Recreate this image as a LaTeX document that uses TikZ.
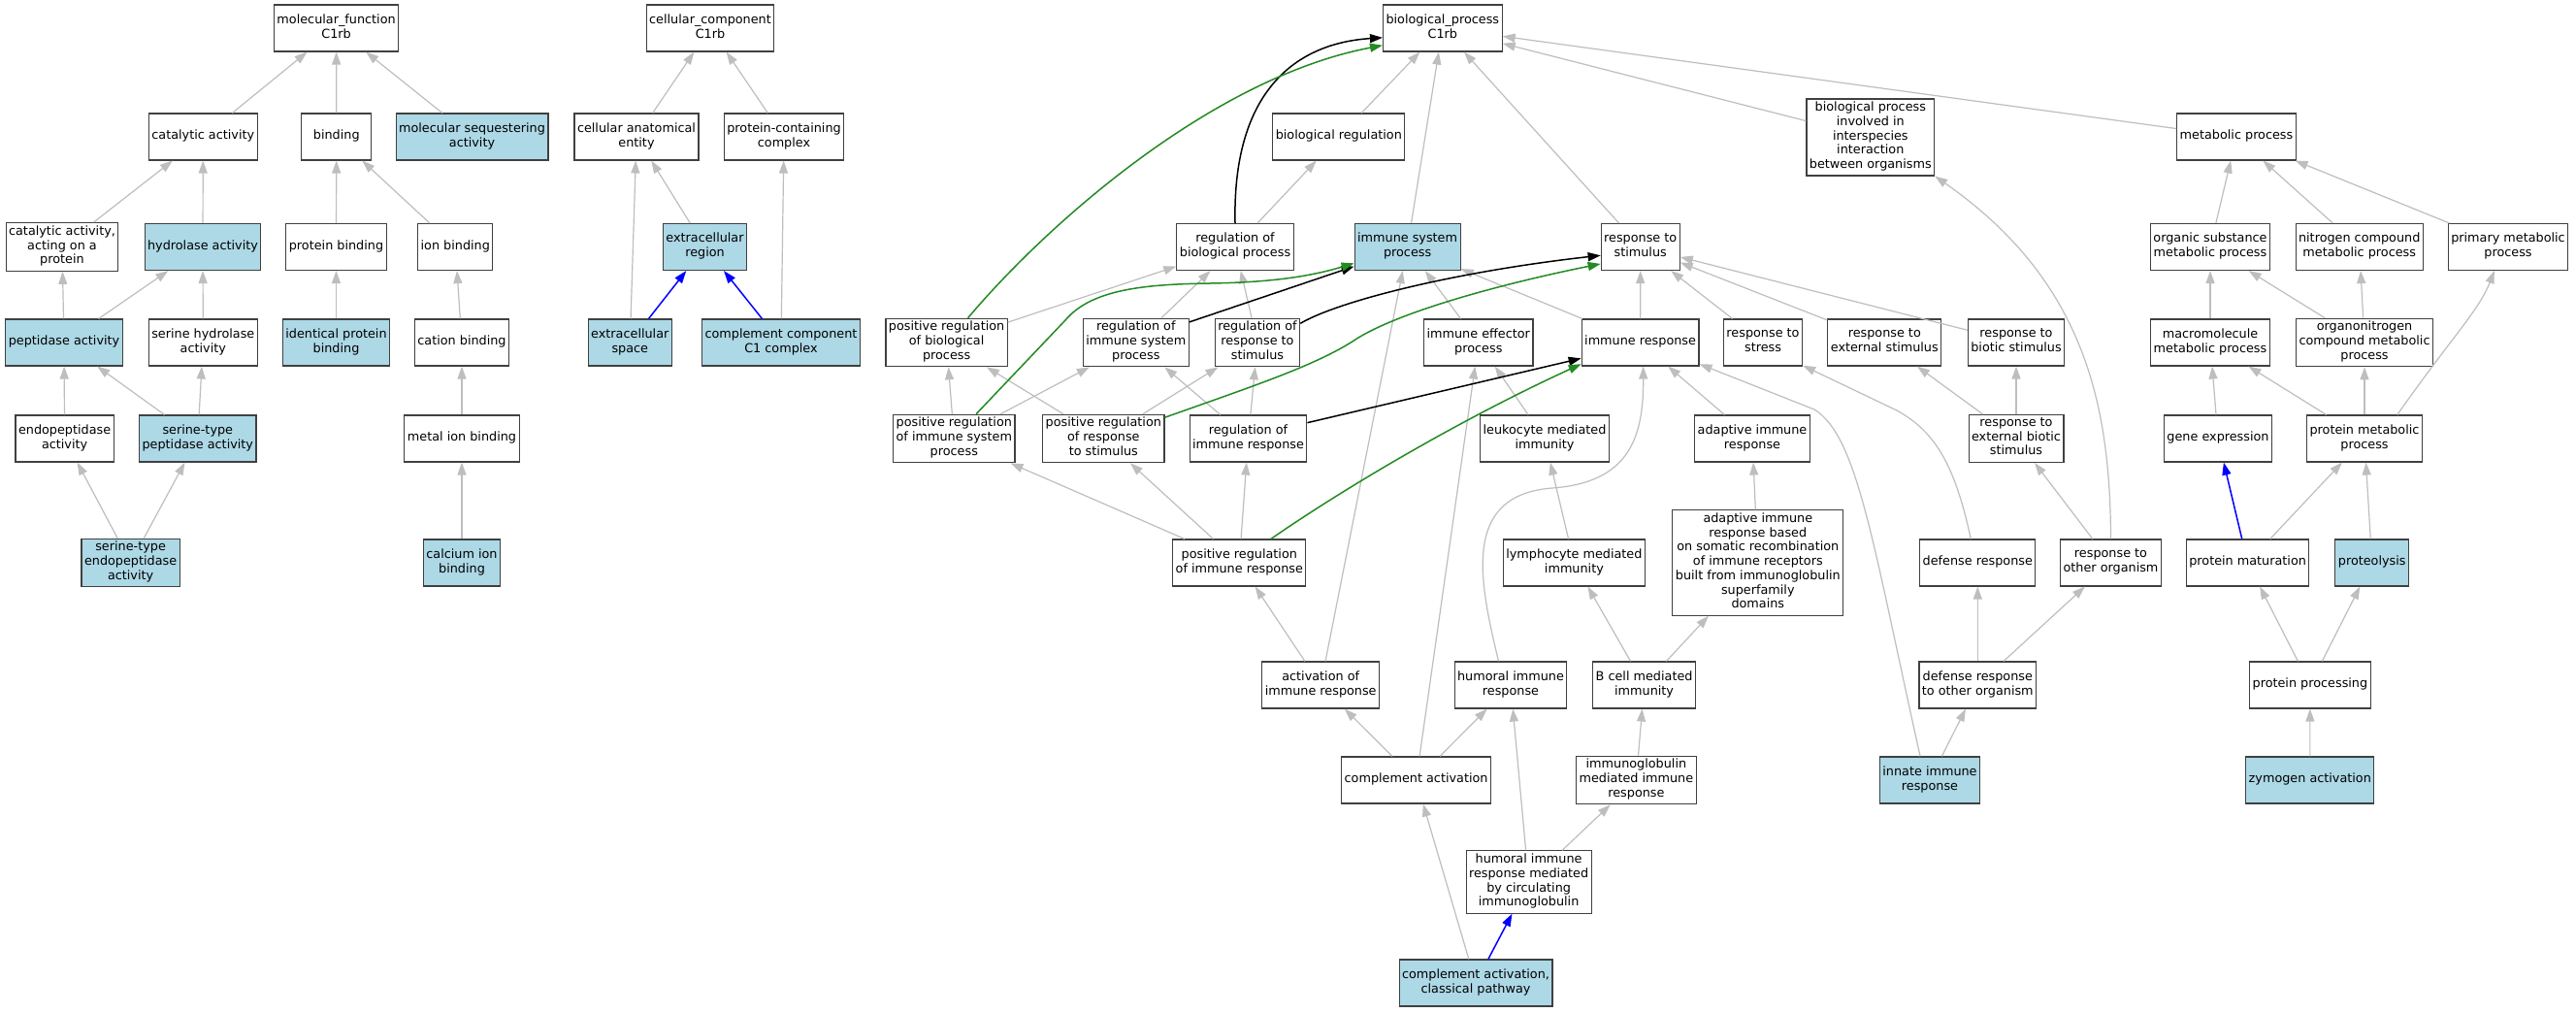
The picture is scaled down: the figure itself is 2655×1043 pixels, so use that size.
\documentclass[tikz,border=0pt]{standalone}
\usepackage{fontspec}
\setmainfont{DejaVu Sans}
\usetikzlibrary{arrows.meta}
\definecolor{termblue}{HTML}{ADD8E6}
\definecolor{edgegray}{HTML}{BEBEBE}
\definecolor{posgreen}{HTML}{228B22}
\begin{document}
\begin{tikzpicture}[x=1bp,y=-1bp,
  term/.style={draw=black!75,line width=1.1bp,fill=white,align=center,minimum width=72bp,minimum height=48bp,inner xsep=3bp,inner ysep=3bp,font=\fontsize{12.8bp}{14.7bp}\selectfont,execute at begin node=\strut,execute at end node=\strut},
  hit/.style={term,fill=termblue},
  isa/.style={draw=edgegray,line width=1.2bp,-{Triangle[length=13bp,width=9bp]}},
  reg/.style={draw=black,line width=1.5bp,-{Triangle[length=13bp,width=9bp]}},
  posreg/.style={draw=posgreen,line width=1.5bp,-{Triangle[length=13bp,width=9bp]}},
  part/.style={draw=blue,line width=1.5bp,-{Triangle[length=13bp,width=9bp]}}]
  \path[use as bounding box,fill=white] (0,0) rectangle (2655,1043);
  % molecular function
  \node[term](mf) at (346.6,29) {molecular\_function\\C1rb};
  \node[term](catact) at (209.3,141) {catalytic activity};
  \node[term](binding) at (346.8,141) {binding};
  \node[hit](molseq) at (486.5,141) {molecular sequestering\\activity};
  \node[term](catprot) at (64,254.5) {catalytic activity,\\acting on a\\protein};
  \node[hit](hydro) at (209,254.5) {hydrolase activity};
  \node[term](protbind) at (346.5,254.5) {protein binding};
  \node[term](ionbind) at (469.3,254.5) {ion binding};
  \node[hit](pept) at (66,353) {peptidase activity};
  \node[term](serhyd) at (209.3,353) {serine hydrolase\\activity};
  \node[hit](idprot) at (346.5,353) {identical protein\\binding};
  \node[term](cation) at (476,353) {cation binding};
  \node[term](endopep) at (66.6,452) {endopeptidase\\activity};
  \node[hit](serpep) at (203.8,452) {serine-type\\peptidase activity};
  \node[term](metalion) at (476,452) {metal ion binding};
  \node[hit](serendo) at (134.6,580) {serine-type\\endopeptidase\\activity};
  \node[hit](calcium) at (476,580) {calcium ion\\binding};
  % cellular component
  \node[term](cc) at (732,29) {cellular\_component\\C1rb};
  \node[term](cae) at (656,141) {cellular anatomical\\entity};
  \node[term](pcc) at (808,141) {protein-containing\\complex};
  \node[hit](ecr) at (726.5,254.5) {extracellular\\region};
  \node[hit](ecs) at (649.3,353) {extracellular\\space};
  \node[hit](c1c) at (805,353) {complement component\\C1 complex};
  % biological process
  \node[term](bp) at (1486.8,29) {biological\_process\\C1rb};
  \node[term](bioreg) at (1379.8,141) {biological regulation};
  \node[term](interspec) at (1927.8,141.5) {biological process\\involved in\\interspecies\\interaction\\between organisms};
  \node[term](metab) at (2305,141) {metabolic process};
  \node[term](rbp) at (1273,254.5) {regulation of\\biological process};
  \node[hit](isp) at (1450.6,254.5) {immune system\\process};
  \node[term](rts) at (1690.7,254.5) {response to\\stimulus};
  \node[term](osmp) at (2278,254.5) {organic substance\\metabolic process};
  \node[term](ncmp) at (2431.7,254.5) {nitrogen compound\\metabolic process};
  \node[term](pmp) at (2585,254.5) {primary metabolic\\process};
  \node[term](prbp) at (975.6,353) {positive regulation\\of biological\\process};
  \node[term](risp) at (1170.8,353) {regulation of\\immune system\\process};
  \node[term](rrs) at (1296,353) {regulation of\\response to\\stimulus};
  \node[term](iep) at (1523.8,353) {immune effector\\process};
  \node[term](ir) at (1690.6,353) {immune response};
  \node[term](rstress) at (1817,353) {response to\\stress};
  \node[term](rext) at (1942.3,353) {response to\\external stimulus};
  \node[term](rbiotic) at (2078,353) {response to\\biotic stimulus};
  \node[term](mmp) at (2278,353) {macromolecule\\metabolic process};
  \node[term](onmp) at (2437,353) {organonitrogen\\compound metabolic\\process};
  \node[term](prisp) at (983.3,452) {positive regulation\\of immune system\\process};
  \node[term](prrs) at (1137.3,452) {positive regulation\\of response\\to stimulus};
  \node[term](rir) at (1286.5,452) {regulation of\\immune response};
  \node[term](lmi) at (1592,452) {leukocyte mediated\\immunity};
  \node[term](air) at (1806,452) {adaptive immune\\response};
  \node[term](rebs) at (2078,452) {response to\\external biotic\\stimulus};
  \node[term](geneexp) at (2286,452) {gene expression};
  \node[term](protmet) at (2437,452) {protein metabolic\\process};
  \node[term](prir) at (1277.3,580) {positive regulation\\of immune response};
  \node[term](lymph) at (1622.4,580) {lymphocyte mediated\\immunity};
  \node[term](airsr) at (1811.8,580) {adaptive immune\\response based\\on somatic recombination\\of immune receptors\\built from immunoglobulin\\superfamily\\domains};
  \node[term](defresp) at (2038.3,580) {defense response};
  \node[term](rorg) at (2175.5,580) {response to\\other organism};
  \node[term](protmat) at (2316.6,580) {protein maturation};
  \node[hit](proteol) at (2444.7,580) {proteolysis};
  \node[term](actir) at (1361.2,706) {activation of\\immune response};
  \node[term](humir) at (1557,706) {humoral immune\\response};
  \node[term](bcell) at (1694.6,706) {B cell mediated\\immunity};
  \node[term](dror) at (2038.3,706) {defense response\\to other organism};
  \node[term](protproc) at (2380.9,706) {protein processing};
  \node[term](compact) at (1459.6,804) {complement activation};
  \node[term](igmir) at (1686.4,804) {immunoglobulin\\mediated immune\\response};
  \node[hit](innate) at (1989,804) {innate immune\\response};
  \node[hit](zymogen) at (2380.8,804) {zymogen activation};
  \node[term](humcirc) at (1575.6,909) {humoral immune\\response mediated\\by circulating\\immunoglobulin};
  \node[hit](classic) at (1521,1013) {complement activation,\\classical pathway};
  % is_a edges
  \draw[isa] (catact)--(mf);
  \draw[isa] (binding)--(mf);
  \draw[isa] (molseq)--(mf);
  \draw[isa] (catprot)--(catact);
  \draw[isa] (hydro)--(catact);
  \draw[isa] (protbind)--(binding);
  \draw[isa] (ionbind)--(binding);
  \draw[isa] (pept)--(catprot);
  \draw[isa] (pept)--(hydro);
  \draw[isa] (serhyd)--(hydro);
  \draw[isa] (idprot)--(protbind);
  \draw[isa] (cation)--(ionbind);
  \draw[isa] (endopep)--(pept);
  \draw[isa] (serpep)--(pept);
  \draw[isa] (serpep)--(serhyd);
  \draw[isa] (serendo)--(endopep);
  \draw[isa] (serendo)--(serpep);
  \draw[isa] (metalion)--(cation);
  \draw[isa] (calcium)--(metalion);
  \draw[isa] (cae)--(cc);
  \draw[isa] (pcc)--(cc);
  \draw[isa] (ecr)--(cae);
  \draw[isa] (ecs)--(cae);
  \draw[isa] (c1c)--(pcc);
  \draw[isa] (bioreg)--(bp);
  \draw[isa] (isp)--(bp);
  \draw[isa] (rts)--(bp);
  \draw[isa] (interspec)--(bp);
  \draw[isa] (metab)--(bp);
  \draw[isa] (rbp)--(bioreg);
  \draw[isa] (prbp)--(rbp);
  \draw[isa] (risp)--(rbp);
  \draw[isa] (rrs)--(rbp);
  \draw[isa] (iep)--(isp);
  \draw[isa] (ir)--(isp);
  \draw[isa] (actir)--(isp);
  \draw[isa] (ir)--(rts);
  \draw[isa] (rstress)--(rts);
  \draw[isa] (rext)--(rts);
  \draw[isa] (rbiotic)--(rts);
  \draw[isa] (prisp)--(prbp);
  \draw[isa] (prisp)--(risp);
  \draw[isa] (prrs)--(prbp);
  \draw[isa] (prrs)--(rrs);
  \draw[isa] (rir)--(risp);
  \draw[isa] (rir)--(rrs);
  \draw[isa] (prir)--(prisp);
  \draw[isa] (prir)--(prrs);
  \draw[isa] (prir)--(rir);
  \draw[isa] (actir)--(prir);
  \draw[isa] (lmi)--(iep);
  \draw[isa] (compact)--(iep);
  \draw[isa] (air)--(ir);
  \draw[isa] (lymph)--(lmi);
  \draw[isa] (bcell)--(lymph);
  \draw[isa] (bcell)--(airsr);
  \draw[isa] (airsr)--(air);
  \draw[isa] (rebs)--(rext);
  \draw[isa] (rebs)--(rbiotic);
  \draw[isa] (rorg)--(rebs);
  \draw[isa] (dror)--(defresp);
  \draw[isa] (dror)--(rorg);
  \draw[isa] (innate)--(dror);
  \draw[isa] (humcirc)--(humir);
  \draw[isa] (humcirc)--(igmir);
  \draw[isa] (igmir)--(bcell);
  \draw[isa] (compact)--(actir);
  \draw[isa] (compact)--(humir);
  \draw[isa] (classic)--(compact);
  \draw[isa] (osmp)--(metab);
  \draw[isa] (ncmp)--(metab);
  \draw[isa] (pmp)--(metab);
  \draw[isa] (mmp)--(osmp);
  \draw[isa] (onmp)--(osmp);
  \draw[isa] (onmp)--(ncmp);
  \draw[isa] (geneexp)--(mmp);
  \draw[isa] (protmet)--(mmp);
  \draw[isa] (protmet)--(onmp);
  \draw[isa] (protmat)--(protmet);
  \draw[isa] (proteol)--(protmet);
  \draw[isa] (protproc)--(protmat);
  \draw[isa] (protproc)--(proteol);
  \draw[isa] (zymogen)--(protproc);
  \draw[isa] (humir.117) .. controls (1525,600) and (1505,510) .. (1600,503) .. controls (1680,497) and (1694,450) .. (ir.277);
  \draw[isa] (innate.112) .. controls (1930,560) and (1915,450) .. (1870,422) -- (ir.340);
  \draw[isa] (defresp.106) .. controls (2015,480) and (1995,445) .. (1955,423) -- (rstress.330);
  \draw[isa] (rorg.north) .. controls (2175,420) and (2150,290) .. (interspec.south east);
  \draw[isa] (protmet.36) .. controls (2525,350) and (2555,320) .. (pmp.240);
  % part_of edges
  \draw[part] (ecs)--(ecr);
  \draw[part] (c1c)--(ecr);
  \draw[part] (classic)--(humcirc);
  \draw[part] (protmat)--(geneexp);
  % regulates edges
  \draw[reg] (rbp.north) .. controls (1270,100) and (1330,45) .. (bp.189);
  \draw[reg] (risp.21)--(isp.200);
  \draw[reg] (rrs.24) .. controls (1380,310) and (1500,280) .. (rts.192);
  \draw[reg] (rir.15)--(ir.195);
  \draw[posreg] (prbp.49) .. controls (1080,230) and (1250,80) .. (bp.196);
  \draw[posreg] (prisp.48) -- (1098,330) .. controls (1125,298) and (1180,293) .. (1247,292) .. controls (1310,291) and (1350,285) .. (isp.197);
  \draw[posreg] (prrs.19) .. controls (1300,395) and (1360,375) .. (1400,348) .. controls (1450,318) and (1560,290) .. (rts.203);
  \draw[posreg] (prir.37) .. controls (1390,500) and (1510,430) .. (ir.200);
\end{tikzpicture}
\end{document}
